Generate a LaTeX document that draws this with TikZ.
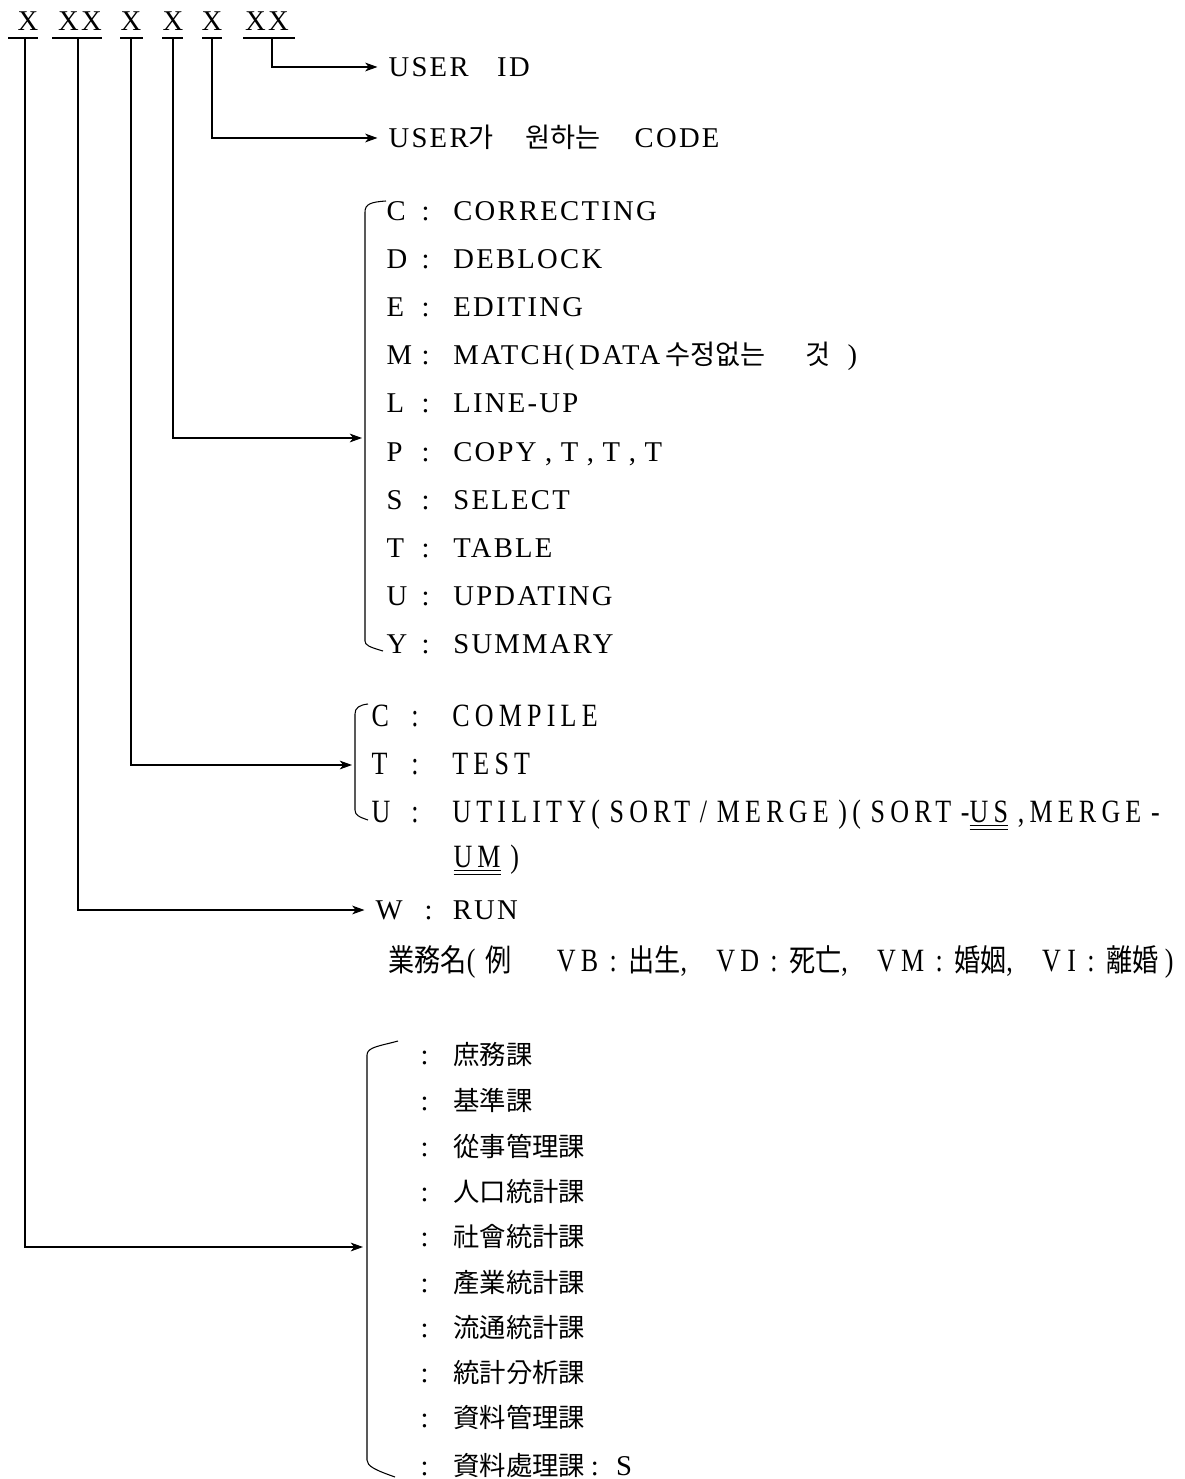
\documentclass[tikz,border=0pt]{standalone}
\usepackage{fontspec}
\setmainfont{Liberation Serif}[LetterSpace=8]
\newfontfamily\condfont{Liberation Serif}[FakeStretch=0.8,LetterSpace=16]
\newfontfamily\krfont{Noto Sans CJK KR}
\newfontfamily\hjcond{Noto Sans CJK KR}[FakeStretch=0.85]
\usepackage{tikz}
\usetikzlibrary{arrows,arrows.meta}
\newcommand{\mainsz}{\fontsize{16.3}{18}\selectfont}
\newcommand{\keya}[2]{\makebox[38pt][l]{\makebox[20pt][l]{#1}:}#2}
\newcommand{\keyb}[2]{\makebox[46pt][l]{\makebox[22.7pt][l]{#1}:}#2}
\newcommand{\keyc}[1]{\makebox[18.7pt][l]{:}{\krfont\fontsize{15}{17}\selectfont #1}}
\newcommand{\kr}[1]{{\krfont\fontsize{15.5}{17}\selectfont #1}}
\newcommand{\hj}[1]{{\hjcond\fontsize{17.5}{19}\selectfont #1}}

\begin{document}
\begin{tikzpicture}[->,semithick,>={Stealth[length=7pt,width=5pt,inset=2pt]},x=0.02cm,y=-0.02cm]
    \tikzstyle{lbl}=[anchor=west, inner sep=0pt, text height=11pt, text depth=0pt, font=\mainsz, text=black]
    \tikzstyle{cond}=[lbl, font=\condfont\fontsize{18.5}{20}\selectfont]
    \tikzstyle{xmark}=[inner sep=0pt, text height=11pt, text depth=0pt, font=\mainsz]
    \tikzstyle{arr}=[->, shorten >=6pt]
    \useasboundingbox (0,0) rectangle (1185,1479);

    % code digits
    \node[xmark] (x1) at (28,21)  {X};
    \node[xmark] (x2) at (80,21)  {XX};
    \node[xmark] (x3) at (131,21) {X};
    \node[xmark] (x4) at (173,21) {X};
    \node[xmark] (x5) at (212,21) {X};
    \node[xmark] (x6) at (267,21) {XX};
    \draw[-] (8,38) -- (38,38);
    \draw[-] (52,38) -- (102,38);
    \draw[-] (120,38) -- (143,38);
    \draw[-] (162,38) -- (183,38);
    \draw[-] (202,38) -- (222,38);
    \draw[-] (243,38) -- (295,38);
    \coordinate (s1) at (25,38);
    \coordinate (s2) at (78,38);
    \coordinate (s3) at (131,38);
    \coordinate (s4) at (173,38);
    \coordinate (s5) at (212,38);
    \coordinate (s6) at (272,38);

    % meanings
    \node[lbl] (uid)  at (388,67)  {USER\hspace{1em}ID};
    \node[lbl] (code) at (388,138) {USER\kr{가}\hspace{1.1em}\kr{원하는}\hspace{1.2em}CODE};

    \node[lbl] (jc) at (386,211) {\keya{C}{CORRECTING}};
    \node[lbl] (jd) at (386,259) {\keya{D}{DEBLOCK}};
    \node[lbl] (je) at (386,307) {\keya{E}{EDITING}};
    \node[lbl] (jm) at (386,355) {\keya{M}{MATCH(\,DATA\,\kr{수정없는}\hspace{1.4em}\kr{것}\hspace{0.6em})}};
    \node[lbl] (jl) at (386,403) {\keya{L}{LINE-UP}};
    \node[lbl] (jp) at (386,452) {\keya{P}{COPY\hspace{0.3em},\hspace{0.3em}T\hspace{0.3em},\hspace{0.3em}T\hspace{0.3em},\hspace{0.3em}T}};
    \node[lbl] (js) at (386,500) {\keya{S}{SELECT}};
    \node[lbl] (jt) at (386,548) {\keya{T}{TABLE}};
    \node[lbl] (ju) at (386,596) {\keya{U}{UPDATING}};
    \node[lbl] (jy) at (386,644) {\keya{Y}{SUMMARY}};
    \coordinate (b1) at (362,438);
    \draw[-] (386,201) .. controls (371,202) and (365,204) .. (365,212) -- (365,641) .. controls (365,645) and (369,647) .. (383,651);

    \node[cond] (mc) at (371,717) {\keyb{C}{COMPILE}};
    \node[cond] (mt) at (371,765) {\keyb{T}{TEST}};
    \node[cond] (mu) at (371,813) {\keyb{U}{UTILITY(\hspace{0.3em}SORT\hspace{0.3em}/\hspace{0.3em}MERGE\hspace{0.3em})(\hspace{0.3em}SORT\hspace{0.3em}-\underline{\underline{US}}\hspace{0.3em},MERGE\hspace{0.3em}-}};
    \node[cond] (mu2) at (453,858) {\underline{\underline{UM}}\hspace{0.3em})};
    \coordinate (b2) at (352,765);
    \draw[-] (368,704) .. controls (359,705) and (355,708) .. (355,714) -- (355,810) .. controls (355,815) and (359,817) .. (368,820);

    \node[lbl] (run) at (375,910) {\makebox[44pt][l]{\makebox[28pt][l]{W}:}RUN};

    \node[cond] (biz) at (388,962) {\hj{業務名}(\hspace{0.3em}\hj{例}\hspace{1.4em}VB\hspace{0.35em}:\hspace{0.35em}\hj{出生},\hspace{0.9em}VD\hspace{0.35em}:\hspace{0.35em}\hj{死亡},\hspace{0.9em}VM\hspace{0.35em}:\hspace{0.35em}\hj{婚姻},\hspace{0.9em}V\hspace{0.2em}I\hspace{0.35em}:\hspace{0.35em}\hj{離婚}\hspace{0.2em})};

    \node[lbl] (k1)  at (420,1055) {\keyc{庶務課}};
    \node[lbl] (k2)  at (420,1101) {\keyc{基準課}};
    \node[lbl] (k3)  at (420,1147) {\keyc{從事管理課}};
    \node[lbl] (k4)  at (420,1192) {\keyc{人口統計課}};
    \node[lbl] (k5)  at (420,1237) {\keyc{社會統計課}};
    \node[lbl] (k6)  at (420,1283) {\keyc{產業統計課}};
    \node[lbl] (k7)  at (420,1328) {\keyc{流通統計課}};
    \node[lbl] (k8)  at (420,1373) {\keyc{統計分析課}};
    \node[lbl] (k9)  at (420,1418) {\keyc{資料管理課}};
    \node[lbl] (k10) at (420,1466) {\keyc{資料處理課}\hspace{0.2em}:\hspace{0.6em}S};
    \coordinate (b3) at (363,1247);
    \draw[-] (398,1041) .. controls (380,1046) and (367,1047) .. (367,1055) -- (367,1460) .. controls (367,1466) and (375,1470) .. (395,1477);

    % arrows
    \draw[arr] (s6) |- (uid.west);
    \draw[arr] (s5) |- (code.west);
    \draw[->] (s4) |- (b1);
    \draw[->] (s3) |- (b2);
    \draw[arr] (s2) |- (run.west);
    \draw[->] (s1) |- (b3);
\end{tikzpicture}
\end{document}
